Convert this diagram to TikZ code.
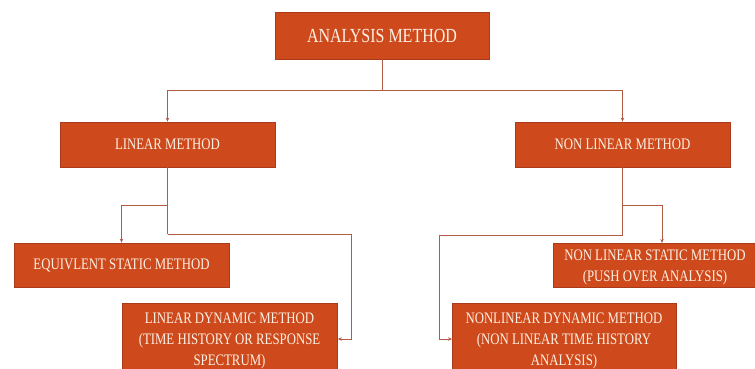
\documentclass[tikz,border=0pt]{standalone}
\usepackage{fontspec}
\setmainfont{Liberation Serif}[FakeStretch=0.8]
\usetikzlibrary{arrows.meta}
\definecolor{boxfill}{RGB}{206,74,28}
\definecolor{boxline}{RGB}{170,58,28}
\definecolor{conn}{RGB}{178,92,70}
\definecolor{txt}{RGB}{252,240,228}
\tikzset{
  x=1pt,y=-1pt,
  mbox/.style={draw=boxline,line width=0.8pt,fill=boxfill,text=txt,inner sep=0pt,align=center,font=\fontsize{16}{21}\selectfont},
  conline/.style={draw=conn,line width=0.9pt},
  conarrow/.style={conline,-{Stealth[length=4pt,width=3.5pt]}}
}
\begin{document}
\begin{tikzpicture}
\useasboundingbox (0,0) rectangle (755,369);
% boxes
\node[mbox,minimum width=214pt,minimum height=47pt,font=\fontsize{20}{24}\selectfont] (top) at (382,35.5) {ANALYSIS METHOD};
\node[mbox,minimum width=215pt,minimum height=45pt] (lin) at (167.5,144.5) {LINEAR METHOD};
\node[mbox,minimum width=215pt,minimum height=45pt] (nlin) at (622.5,144.5) {NON LINEAR METHOD};
\node[mbox,minimum width=215pt,minimum height=44pt] (eq) at (121.5,265) {EQUIVLENT STATIC METHOD};
\node[mbox,minimum width=215pt,minimum height=90pt,anchor=north west] (ld) at (122,303) {};
\node[text=txt,align=center,font=\fontsize{16}{21}\selectfont,anchor=north] (ldt) at (229.5,309) {LINEAR DYNAMIC METHOD\\(TIME HISTORY OR RESPONSE\\SPECTRUM)};
\node[mbox,minimum width=220pt,minimum height=44pt,anchor=north west] (ns) at (553,243) {};
\node[text=txt,align=center,font=\fontsize{16}{21}\selectfont] (nst) at (655,267) {NON LINEAR STATIC METHOD\\(PUSH OVER ANALYSIS)};
\node[mbox,minimum width=224pt,minimum height=90pt,anchor=north west] (nd) at (452,303) {};
\node[text=txt,align=center,font=\fontsize{16}{21}\selectfont,anchor=north] (ndt) at (564,309) {NONLINEAR DYNAMIC METHOD\\(NON LINEAR TIME HISTORY\\ANALYSIS)};
% connectors
\coordinate (j0) at (382,90);
\draw[conline] (top.south) -- (j0);
\draw[conarrow] (j0) -| (lin.north);
\draw[conarrow] (j0) -| (nlin.north);
\coordinate (la) at (167.5,205);
\coordinate (lb) at (167.5,234);
\draw[conline] (lin.south) -- (lb);
\draw[conarrow] (la) -| (eq.north);
\draw[conarrow] (lb) -- (351,234) |- (ld.east |- 0,339);
\coordinate (na) at (622.5,205);
\coordinate (nb) at (622.5,235);
\draw[conline] (nlin.south) -- (nb);
\draw[conarrow] (na) -| (662,243);
\draw[conarrow] (nb) -- (439,235) |- (nd.west |- 0,339);
\end{tikzpicture}
\end{document}
